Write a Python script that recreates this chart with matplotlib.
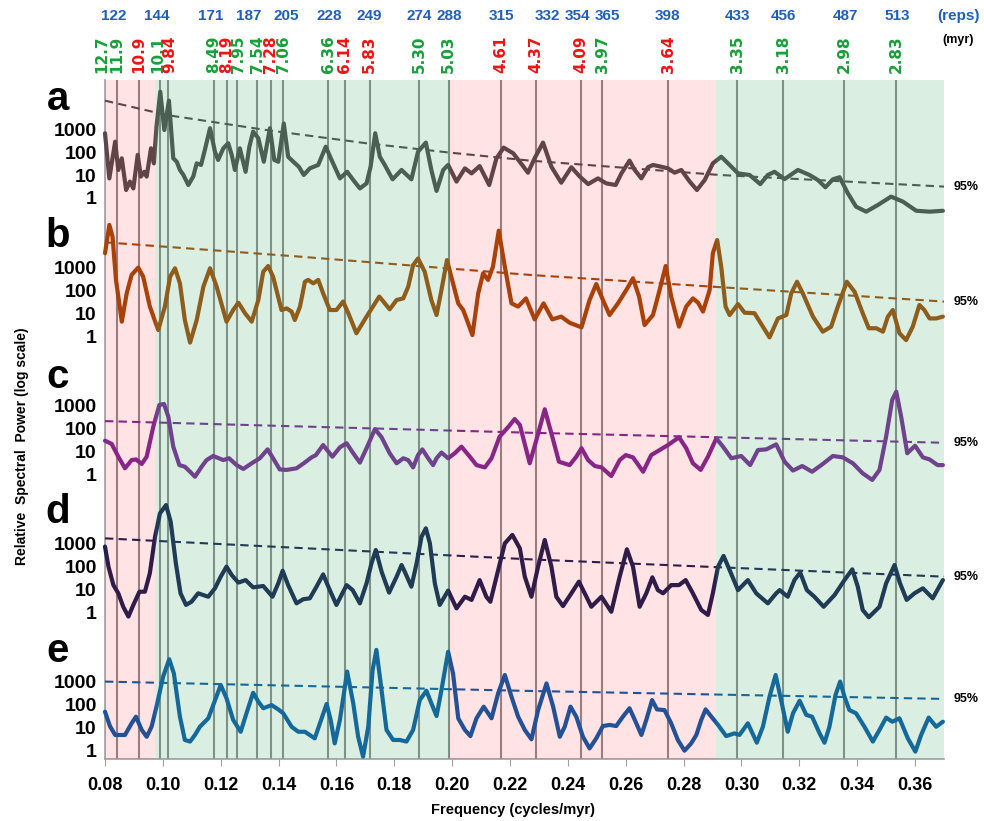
import numpy as np
import matplotlib.pyplot as plt
from matplotlib.ticker import NullLocator, FixedLocator, FixedFormatter
from matplotlib.transforms import blended_transform_factory

plt.rcParams['font.family'] = ['Liberation Sans', 'DejaVu Sans']
plt.rcParams['font.weight'] = 'bold'

# --- labels across the top ---
periods = [12.7, 11.9, 10.9, 10.1, 9.84, 8.49, 8.19, 7.95, 7.54, 7.28, 7.06, 6.36, 6.14,
           5.83, 5.30, 5.03, 4.61, 4.37, 4.09, 3.97, 3.64, 3.35, 3.18, 2.98, 2.83]
period_text = ["12.7", "11.9", "10.9", "10.1", "9.84", "8.49", "8.19", "7.95", "7.54", "7.28",
               "7.06", "6.36", "6.14", "5.83", "5.30", "5.03", "4.61", "4.37", "4.09", "3.97",
               "3.64", "3.35", "3.18", "2.98", "2.83"]
period_red = ["10.9", "9.84", "8.19", "7.28", "6.14", "5.83", "4.61", "4.37", "4.09", "3.64"]
reps = ["122", "144", "171", "187", "205", "228", "249", "274", "288", "315", "332", "354",
        "365", "398", "433", "456", "487", "513"]
reps_freq = [0.0831, 0.0980, 0.1166, 0.1298, 0.1426, 0.1574, 0.1713, 0.1885, 0.1989, 0.2169,
             0.2331, 0.2432, 0.2535, 0.2743, 0.2985, 0.3144, 0.3358, 0.3538]

# shaded bands (frequency edges) and their kind
band_edges = [0.08, 0.0973, 0.1989, 0.2913, 0.37]
band_kind = ["pink", "green", "pink", "green"]

# --- spectra: frequency and log10 of relative power ---
a_freq = [0.0800, 0.0815, 0.0835, 0.0846, 0.0858, 0.0873, 0.0886, 0.0898, 0.0913, 0.0924,
          0.0936, 0.0944, 0.0959, 0.0969, 0.0978, 0.0991, 0.1005, 0.1021, 0.1036, 0.1048,
          0.1059, 0.1071, 0.1088, 0.1105, 0.1117, 0.1132, 0.1145, 0.1163, 0.1180, 0.1191,
          0.1209, 0.1226, 0.1238, 0.1249, 0.1266, 0.1286, 0.1299, 0.1312, 0.1330, 0.1349,
          0.1370, 0.1385, 0.1399, 0.1418, 0.1433, 0.1451, 0.1470, 0.1487, 0.1508, 0.1537,
          0.1563, 0.1583, 0.1612, 0.1637, 0.1658, 0.1681, 0.1704, 0.1718, 0.1734, 0.1750,
          0.1767, 0.1794, 0.1825, 0.1859, 0.1882, 0.1909, 0.1928, 0.1946, 0.1969, 0.1986,
          0.2015, 0.2044, 0.2067, 0.2095, 0.2128, 0.2153, 0.2178, 0.2211, 0.2239, 0.2262,
          0.2285, 0.2314, 0.2343, 0.2377, 0.2412, 0.2441, 0.2470, 0.2504, 0.2533, 0.2565,
          0.2585, 0.2613, 0.2631, 0.2654, 0.2677, 0.2694, 0.2723, 0.2746, 0.2769, 0.2792,
          0.2821, 0.2846, 0.2873, 0.2901, 0.2930, 0.2959, 0.2988, 0.3028, 0.3065, 0.3091,
          0.3114, 0.3149, 0.3195, 0.3235, 0.3264, 0.3290, 0.3316, 0.3339, 0.3368, 0.3396,
          0.3431, 0.3471, 0.3517, 0.3558, 0.3604, 0.3650, 0.3696]
a_log = [2.84, 0.86, 2.47, 1.23, 1.74, 0.35, 0.72, 0.42, 1.89, 0.94,
         1.15, 0.94, 2.18, 1.52, 3.13, 4.66, 2.98, 4.27, 1.74, 1.59,
         1.23, 1.01, 0.57, 0.94, 1.52, 1.45, 2.10, 3.06, 2.03, 1.67,
         2.18, 2.40, 1.89, 1.23, 2.18, 1.15, 2.25, 2.91, 2.62, 1.59,
         3.06, 1.67, 1.59, 3.27, 1.81, 1.59, 1.37, 1.01, 1.30, 1.45,
         2.25, 1.67, 0.86, 1.15, 0.79, 0.42, 0.64, 1.37, 2.84, 1.81,
         1.45, 0.82, 1.23, 0.82, 2.03, 2.43, 1.23, 0.31, 1.23, 1.45,
         0.72, 1.30, 1.08, 1.40, 0.57, 1.74, 2.21, 1.96, 1.50, 1.11,
         1.74, 2.43, 1.37, 0.67, 1.35, 0.94, 0.61, 0.86, 0.64, 0.57,
         1.08, 1.64, 1.23, 0.86, 1.35, 1.45, 1.37, 1.30, 1.11, 1.23,
         0.72, 0.35, 0.79, 1.52, 1.81, 1.45, 1.08, 1.01, 0.61, 1.01,
         1.15, 0.83, 1.23, 1.01, 0.79, 0.47, 0.82, 0.91, 0.20, -0.38,
         -0.60, -0.31, 0.06, -0.16, -0.56, -0.60, -0.56]

b_freq = [0.0800, 0.0815, 0.0826, 0.0838, 0.0858, 0.0875, 0.0892, 0.0915, 0.0932, 0.0955,
          0.0984, 0.1007, 0.1025, 0.1042, 0.1059, 0.1076, 0.1094, 0.1117, 0.1140, 0.1163,
          0.1186, 0.1220, 0.1243, 0.1261, 0.1284, 0.1307, 0.1330, 0.1347, 0.1364, 0.1381,
          0.1410, 0.1428, 0.1445, 0.1456, 0.1474, 0.1491, 0.1502, 0.1520, 0.1537, 0.1554,
          0.1577, 0.1600, 0.1623, 0.1641, 0.1669, 0.1704, 0.1748, 0.1784, 0.1808, 0.1831,
          0.1848, 0.1865, 0.1882, 0.1905, 0.1928, 0.1946, 0.1963, 0.1982, 0.2003, 0.2021,
          0.2038, 0.2049, 0.2070, 0.2090, 0.2107, 0.2124, 0.2141, 0.2161, 0.2182, 0.2205,
          0.2228, 0.2255, 0.2285, 0.2316, 0.2346, 0.2377, 0.2406, 0.2447, 0.2475, 0.2498,
          0.2521, 0.2544, 0.2573, 0.2602, 0.2625, 0.2646, 0.2665, 0.2694, 0.2717, 0.2738,
          0.2757, 0.2784, 0.2809, 0.2832, 0.2850, 0.2867, 0.2890, 0.2901, 0.2916, 0.2930,
          0.2945, 0.2959, 0.2988, 0.3011, 0.3045, 0.3074, 0.3097, 0.3126, 0.3155, 0.3172,
          0.3192, 0.3212, 0.3247, 0.3281, 0.3310, 0.3333, 0.3364, 0.3391, 0.3419, 0.3440,
          0.3466, 0.3489, 0.3506, 0.3523, 0.3546, 0.3569, 0.3592, 0.3615, 0.3632, 0.3650,
          0.3673, 0.3696]
b_log = [3.63, 4.87, 4.36, 2.46, 0.63, 1.87, 2.68, 3.00, 2.60, 1.29,
         0.26, 1.29, 2.60, 2.97, 2.31, 0.70, -0.29, 0.70, 2.16, 2.97,
         2.16, 0.63, 1.14, 1.46, 1.00, 0.63, 1.58, 2.82, 3.07, 2.60,
         1.14, 1.21, 1.07, 0.70, 1.29, 2.38, 2.46, 2.31, 2.46, 1.87,
         1.14, 1.14, 1.51, 1.00, 0.12, 0.85, 1.73, 1.17, 1.58, 1.65,
         2.16, 3.11, 3.40, 2.82, 1.58, 0.92, 2.02, 3.33, 2.31, 1.43,
         1.14, 0.77, 0.04, 1.87, 2.75, 2.46, 3.04, 4.62, 3.04, 1.43,
         1.29, 1.65, 0.73, 1.43, 0.73, 0.85, 0.58, 0.38, 1.58, 2.28,
         1.58, 0.92, 1.43, 2.02, 2.53, 1.73, 0.48, 0.92, 2.02, 3.07,
         1.73, 0.41, 1.29, 1.65, 1.46, 1.07, 2.02, 3.63, 4.21, 3.04,
         1.29, 0.92, 1.40, 1.02, 1.00, 0.41, -0.06, 0.77, 0.92, 1.87,
         2.38, 1.87, 0.85, 0.19, 0.41, 1.29, 2.38, 1.94, 1.00, 0.34,
         0.34, 0.19, 0.85, 1.14, 0.12, -0.18, 0.41, 1.36, 1.14, 0.77,
         0.77, 0.85]

c_freq = [0.0800, 0.0823, 0.0846, 0.0869, 0.0892, 0.0907, 0.0927, 0.0944, 0.0967, 0.0988,
          0.1004, 0.1019, 0.1036, 0.1057, 0.1076, 0.1094, 0.1111, 0.1134, 0.1151, 0.1174,
          0.1209, 0.1229, 0.1255, 0.1278, 0.1307, 0.1335, 0.1362, 0.1381, 0.1404, 0.1428,
          0.1462, 0.1487, 0.1514, 0.1529, 0.1554, 0.1586, 0.1612, 0.1635, 0.1658, 0.1681,
          0.1704, 0.1733, 0.1756, 0.1784, 0.1808, 0.1831, 0.1848, 0.1865, 0.1882, 0.1897,
          0.1917, 0.1934, 0.1946, 0.1963, 0.1986, 0.2009, 0.2032, 0.2061, 0.2084, 0.2113,
          0.2136, 0.2164, 0.2193, 0.2216, 0.2234, 0.2268, 0.2291, 0.2320, 0.2343, 0.2369,
          0.2406, 0.2429, 0.2447, 0.2470, 0.2493, 0.2516, 0.2550, 0.2579, 0.2600, 0.2625,
          0.2660, 0.2688, 0.2717, 0.2746, 0.2784, 0.2809, 0.2832, 0.2859, 0.2884, 0.2913,
          0.2936, 0.2965, 0.2999, 0.3030, 0.3057, 0.3086, 0.3120, 0.3149, 0.3178, 0.3210,
          0.3244, 0.3281, 0.3316, 0.3350, 0.3385, 0.3419, 0.3452, 0.3477, 0.3500, 0.3521,
          0.3535, 0.3552, 0.3573, 0.3600, 0.3627, 0.3650, 0.3678, 0.3696]
c_log = [1.46, 1.32, 0.76, 0.25, 0.61, 0.64, 0.44, 0.76, 2.08, 3.03,
         3.07, 2.51, 1.20, 0.39, 0.32, 0.10, -0.12, 0.32, 0.61, 0.79,
         0.61, 0.69, 0.39, 0.22, 0.47, 0.69, 1.08, 0.69, 0.20, 0.18,
         0.25, 0.47, 0.73, 0.83, 1.27, 0.76, 1.17, 1.35, 0.91, 0.50,
         1.13, 1.97, 1.61, 0.91, 0.47, 0.69, 0.61, 0.29, 0.83, 1.08,
         0.69, 0.39, 0.69, 0.94, 0.69, 0.91, 1.20, 0.76, 0.39, 0.29,
         0.69, 1.64, 2.05, 2.41, 2.15, 0.47, 1.49, 2.84, 1.78, 0.54,
         0.39, 0.76, 1.13, 0.61, 0.35, 0.29, -0.09, 0.61, 0.83, 0.73,
         0.10, 0.83, 1.05, 1.27, 1.61, 1.13, 0.47, 0.18, 0.76, 1.56,
         1.20, 0.69, 0.79, 0.39, 1.05, 1.08, 1.30, 0.54, 0.15, 0.35,
         0.10, 0.44, 0.79, 0.73, 0.47, 0.03, -0.26, 0.18, 1.64, 3.25,
         3.61, 2.51, 0.91, 1.24, 0.73, 0.64, 0.39, 0.39]

d_freq = [0.0800, 0.0812, 0.0829, 0.0846, 0.0863, 0.0881, 0.0898, 0.0919, 0.0938, 0.0955,
          0.0973, 0.0990, 0.1011, 0.1027, 0.1045, 0.1061, 0.1080, 0.1099, 0.1122, 0.1157,
          0.1180, 0.1200, 0.1220, 0.1238, 0.1261, 0.1286, 0.1312, 0.1347, 0.1379, 0.1399,
          0.1414, 0.1433, 0.1462, 0.1485, 0.1508, 0.1531, 0.1554, 0.1577, 0.1600, 0.1635,
          0.1656, 0.1681, 0.1704, 0.1721, 0.1736, 0.1756, 0.1782, 0.1808, 0.1825, 0.1836,
          0.1859, 0.1877, 0.1894, 0.1909, 0.1923, 0.1940, 0.1957, 0.1986, 0.2015, 0.2044,
          0.2067, 0.2095, 0.2118, 0.2132, 0.2159, 0.2182, 0.2208, 0.2234, 0.2251, 0.2274,
          0.2297, 0.2320, 0.2343, 0.2360, 0.2383, 0.2412, 0.2438, 0.2464, 0.2481, 0.2516,
          0.2550, 0.2579, 0.2604, 0.2625, 0.2648, 0.2671, 0.2692, 0.2711, 0.2729, 0.2757,
          0.2784, 0.2807, 0.2832, 0.2861, 0.2884, 0.2901, 0.2919, 0.2938, 0.2959, 0.2988,
          0.3022, 0.3051, 0.3091, 0.3120, 0.3132, 0.3160, 0.3183, 0.3203, 0.3226, 0.3252,
          0.3284, 0.3322, 0.3356, 0.3383, 0.3402, 0.3419, 0.3440, 0.3477, 0.3500, 0.3529,
          0.3548, 0.3571, 0.3598, 0.3627, 0.3661, 0.3696]
d_log = [2.87, 1.99, 1.18, 0.82, 0.23, -0.20, 0.31, 0.89, 0.89, 1.70,
         3.30, 4.33, 4.69, 3.96, 2.13, 0.82, 0.31, 0.45, 0.82, 0.67,
         1.04, 1.55, 1.99, 1.62, 1.29, 1.40, 1.08, 1.14, 0.67, 1.26,
         1.81, 1.18, 0.38, 0.56, 0.60, 1.11, 1.65, 0.96, 0.31, 1.18,
         0.96, 0.38, 1.26, 2.13, 2.72, 1.77, 0.85, 1.55, 2.06, 1.77,
         1.11, 2.13, 3.30, 3.67, 3.01, 1.26, 0.31, 0.94, 0.16, 0.67,
         0.53, 1.40, 0.67, 0.45, 1.84, 3.01, 3.38, 2.79, 1.55, 0.67,
         1.99, 3.16, 1.99, 0.67, 0.26, 0.82, 1.33, 0.67, 0.23, 0.67,
         0.01, 1.55, 2.75, 1.99, 0.23, 0.82, 1.52, 0.96, 0.82, 1.18,
         1.18, 1.40, 0.82, 0.09, -0.13, 0.82, 1.99, 2.46, 1.84, 0.96,
         1.40, 0.82, 0.38, 0.82, 0.96, 0.67, 1.40, 1.73, 0.96, 0.67,
         0.23, 0.75, 1.40, 1.87, 1.11, 0.09, -0.23, 0.23, 1.26, 2.06,
         1.26, 0.53, 0.82, 1.04, 0.60, 1.40]

e_freq = [0.0800, 0.0817, 0.0835, 0.0869, 0.0892, 0.0907, 0.0927, 0.0944, 0.0961, 0.0978,
          0.1001, 0.1022, 0.1038, 0.1059, 0.1076, 0.1094, 0.1111, 0.1128, 0.1157, 0.1174,
          0.1200, 0.1220, 0.1243, 0.1269, 0.1289, 0.1312, 0.1330, 0.1347, 0.1376, 0.1399,
          0.1416, 0.1445, 0.1468, 0.1491, 0.1525, 0.1543, 0.1566, 0.1580, 0.1594, 0.1612,
          0.1637, 0.1658, 0.1675, 0.1692, 0.1710, 0.1725, 0.1738, 0.1753, 0.1773, 0.1796,
          0.1819, 0.1842, 0.1865, 0.1888, 0.1911, 0.1928, 0.1946, 0.1963, 0.1986, 0.2003,
          0.2021, 0.2044, 0.2063, 0.2084, 0.2109, 0.2136, 0.2159, 0.2182, 0.2205, 0.2228,
          0.2251, 0.2274, 0.2297, 0.2326, 0.2349, 0.2372, 0.2389, 0.2409, 0.2429, 0.2452,
          0.2475, 0.2498, 0.2521, 0.2544, 0.2567, 0.2590, 0.2613, 0.2634, 0.2654, 0.2671,
          0.2691, 0.2708, 0.2734, 0.2757, 0.2780, 0.2803, 0.2826, 0.2844, 0.2861, 0.2876,
          0.2896, 0.2919, 0.2947, 0.2976, 0.2993, 0.3022, 0.3053, 0.3074, 0.3097, 0.3118,
          0.3137, 0.3160, 0.3178, 0.3201, 0.3224, 0.3244, 0.3270, 0.3287, 0.3304, 0.3325,
          0.3341, 0.3356, 0.3373, 0.3396, 0.3425, 0.3454, 0.3477, 0.3500, 0.3521, 0.3546,
          0.3575, 0.3601, 0.3621, 0.3647, 0.3673, 0.3696]
e_log = [1.68, 1.05, 0.66, 0.66, 1.17, 1.46, 0.88, 0.58, 1.02, 1.90,
         3.22, 3.98, 3.36, 1.46, 0.44, 0.37, 0.66, 1.02, 1.39, 1.97,
         2.85, 2.27, 1.32, 0.80, 1.61, 2.51, 2.12, 1.83, 1.97, 1.78,
         1.61, 1.02, 0.80, 0.80, 0.51, 1.17, 2.02, 1.32, 0.29, 1.32,
         3.44, 2.05, 0.58, -0.29, 1.02, 3.51, 4.39, 2.92, 0.88, 0.44,
         0.44, 0.37, 0.88, 2.19, 2.60, 2.05, 1.49, 2.63, 4.31, 3.36,
         1.39, 0.88, 0.61, 1.39, 1.90, 1.39, 2.49, 3.29, 2.34, 1.46,
         0.88, 0.47, 1.75, 2.92, 1.90, 0.58, 1.02, 1.90, 1.46, 0.58,
         0.07, 0.51, 1.05, 1.10, 1.05, 1.46, 1.83, 1.24, 0.66, 1.32,
         2.19, 1.78, 1.75, 1.17, 0.44, -0.03, 0.29, 0.66, 1.32, 1.78,
         1.46, 1.10, 0.61, 0.73, 0.66, 1.17, 0.32, 1.02, 2.34, 3.29,
         2.19, 0.80, 1.61, 2.16, 1.54, 1.46, 0.73, 0.32, 1.02, 2.41,
         3.00, 2.34, 1.75, 1.61, 1.02, 0.37, 0.88, 1.42, 1.24, 1.39,
         0.51, -0.07, 0.66, 1.42, 1.02, 1.24]

# 95% confidence lines (log10 power)
a_ci_freq = [0.08, 0.1013, 0.1358, 0.1704, 0.1992, 0.2268, 0.2924, 0.37]
a_ci_log = [4.27, 3.64, 2.98, 2.40, 1.99, 1.64, 1.01, 0.50]
b_ci_freq = [0.08, 0.1474, 0.2268, 0.37]
b_ci_log = [4.11, 3.48, 2.68, 1.51]
c_ci_freq = [0.08, 0.2268, 0.37]
c_ci_log = [2.32, 1.81, 1.37]
d_ci_freq = [0.08, 0.2268, 0.37]
d_ci_log = [3.23, 2.31, 1.55]
e_ci_freq = [0.08, 0.2268, 0.37]
e_ci_log = [3.00, 2.59, 2.24]

panels = [
    ("a", a_freq, a_log, a_ci_freq, a_ci_log, "#4d4d4d"),
    ("b", b_freq, b_log, b_ci_freq, b_ci_log, "#a04a08"),
    ("c", c_freq, c_log, c_ci_freq, c_ci_log, "#7a2a94"),
    ("d", d_freq, d_log, d_ci_freq, d_ci_log, "#16204f"),
    ("e", e_freq, e_log, e_ci_freq, e_ci_log, "#0a5aa6"),
]

FW, FH = 984.0, 821.0
fig = plt.figure(figsize=(FW / 100, FH / 100), dpi=100)
X0, X1 = 105 / FW, 944 / FW
TOP_PX, BOT_PX = 80.0, 759.1
DEC = 22.8


def fy(px):
    return 1 - px / FH


# background axes: vertical period lines and the frequency axis
ax_bg = fig.add_axes([X0, fy(BOT_PX), X1 - X0, (BOT_PX - TOP_PX) / FH])
ax_bg.set_xlim(0.08, 0.37)
ax_bg.set_ylim(0, 1)
ax_bg.set_yticks([])
for p in periods:
    ax_bg.axvline(1 / p, color="#8c8c8c", lw=1.5)
for s in ["top", "right"]:
    ax_bg.spines[s].set_visible(False)
ax_bg.spines["bottom"].set_color("#a0a0a0")
ax_bg.spines["left"].set_color("#a0a0a0")
ax_bg.spines["bottom"].set_linewidth(1.2)
ax_bg.spines["left"].set_linewidth(1.2)
xt = np.arange(0.08, 0.3601, 0.02)
ax_bg.set_xticks(xt)
ax_bg.set_xticklabels([f"{v:.2f}" for v in xt], fontsize=13, fontweight="bold")
ax_bg.tick_params(axis="x", direction="out", length=5, color="#a0a0a0", pad=8)

# stacked panels
for i, (name, fr, lg, cfr, clg, col) in enumerate(panels):
    one = 198 + 138 * i
    bot = one + 0.4 * DEC
    top = max(TOP_PX, one - 5.65 * DEC)
    ax = fig.add_axes([X0, fy(bot), X1 - X0, (bot - top) / FH])
    ax.set_facecolor("none")
    ax.set_yscale("log")
    ax.set_xlim(0.08, 0.37)
    ax.set_ylim(10 ** -0.4, 10 ** ((one - top) / DEC))
    for s in ax.spines.values():
        s.set_visible(False)
    ax.set_xticks([])
    ax.yaxis.set_major_locator(FixedLocator([1, 10, 100, 1000]))
    ax.yaxis.set_major_formatter(FixedFormatter(["1", "10", "100", "1000"]))
    ax.yaxis.set_minor_locator(NullLocator())
    ax.tick_params(axis="y", length=0, pad=6, labelsize=14)
    for t in ax.get_yticklabels():
        t.set_fontweight("bold")
    ax.plot(fr, 10 ** np.array(lg), color=col, lw=3, clip_on=False,
            solid_joinstyle="round", solid_capstyle="round")
    ax.plot(cfr, 10 ** np.array(clg), color=col, lw=1.5, ls=(0, (4, 2.5)), clip_on=False)
    ax.text(0.3733, 10 ** clg[-1], "95%", fontsize=9, fontweight="bold",
            ha="left", va="center", clip_on=False)
    fig.text(58 / FW, fy([110, 247, 388, 523, 662][i]), name, fontsize=29,
             fontweight="bold", ha="center", va="baseline")

# translucent colour bands laid over everything
ax_ov = fig.add_axes([X0, fy(BOT_PX), X1 - X0, (BOT_PX - TOP_PX) / FH])
ax_ov.set_zorder(10)
ax_ov.set_xlim(0.08, 0.37)
ax_ov.axis("off")
for k in range(len(band_kind)):
    if band_kind[k] == "pink":
        ax_ov.axvspan(band_edges[k], band_edges[k + 1], color="#ff0014", alpha=0.11, lw=0)
    else:
        ax_ov.axvspan(band_edges[k], band_edges[k + 1], color="#46aa6e", alpha=0.2, lw=0)

# top labels
trans = blended_transform_factory(ax_bg.transData, fig.transFigure)
for r, f in zip(reps, reps_freq):
    fig.text(f, fy(16), r, transform=trans, color="#1f5fbf", fontsize=11,
             fontweight="bold", ha="center", va="center")
fig.text(958 / FW, fy(16), "(reps)", color="#1f5fbf", fontsize=11,
         fontweight="bold", ha="center", va="center")
fig.text(958 / FW, fy(40), "(myr)", color="black", fontsize=9,
         fontweight="bold", ha="center", va="center")

# period labels sit on their lines, nudged apart where they crowd together
px_per_freq = (X1 - X0) * FW / 0.29
lab_px = [105 + (1 / p - 0.08) * px_per_freq for p in periods]
gap = 12.5
for _ in range(60):
    for j in range(len(lab_px) - 1):
        d = lab_px[j + 1] - lab_px[j]
        if d < gap:
            lab_px[j] -= (gap - d) / 2
            lab_px[j + 1] += (gap - d) / 2
for x, txt in zip(lab_px, period_text):
    c = "#f01414" if txt in period_red else "#17a03a"
    fig.text(x / FW, fy(73), txt, color=c, fontsize=11, family="DejaVu Sans",
             fontweight="bold", rotation=90, ha="center", va="bottom")

fig.text(22 / FW, fy(446), "Relative  Spectral  Power (log scale)", rotation=90,
         fontsize=10, fontweight="bold", ha="center", va="center")
fig.text(513 / FW, fy(810), "Frequency (cycles/myr)", fontsize=10.5,
         fontweight="bold", ha="center", va="center")

fig.savefig("out.png", dpi=100)
